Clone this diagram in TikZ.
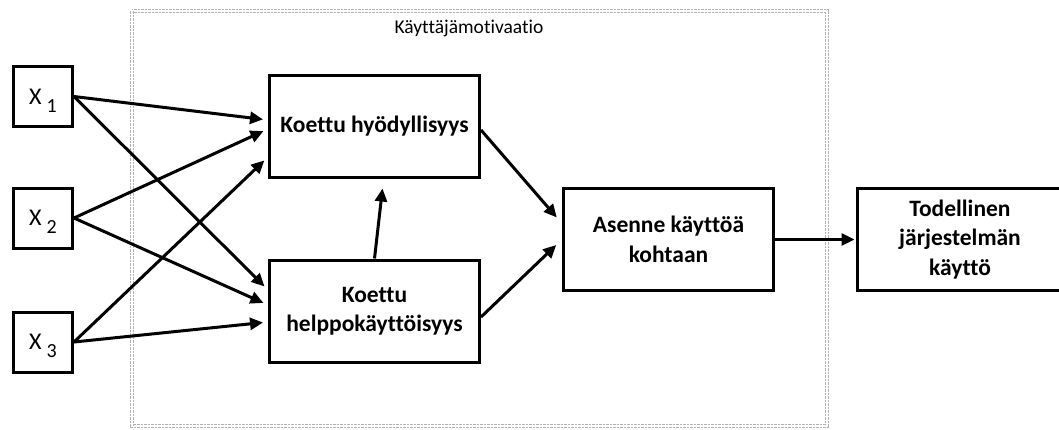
\documentclass[tikz,border=0pt]{standalone}
\usepackage{fontspec}
\setmainfont{Carlito}[Ligatures={NoCommon}]
\usetikzlibrary{arrows.meta,calc}
\newcommand{\xsub}[1]{X\hspace{5pt}\smash{\raisebox{-8pt}{\fontsize{20}{21}\selectfont #1}}}
\begin{document}
\begin{tikzpicture}[x=1pt,y=-1pt,
  xbox/.style={draw,line width=3pt,minimum width=59pt,minimum height=60pt,inner sep=0pt,font=\fontsize{24}{26}\selectfont},
  cbox/.style={draw,line width=3pt,minimum width=210pt,minimum height=102pt,inner sep=0pt,align=center,font=\bfseries\fontsize{23.5}{29.5}\selectfont},
  arr/.style={line width=3pt,-{Triangle[length=13pt,width=12pt]},shorten >=5pt},
  container/.style={draw=gray!60,double=white,double distance=1.2pt,line width=1pt,dash pattern=on 2.5pt off 1pt}
]
\useasboundingbox (0,0) rectangle (1059,429);
\draw[container] (132,11) rectangle (827,426);
\node[font=\fontsize{19.5}{21}\selectfont,anchor=west] (lab) at (391,28) {Käyttäjämotivaatio};
\node[xbox] (x1) at (43,96.5) {\xsub{1}};
\node[xbox] (x2) at (43,218) {\xsub{2}};
\node[xbox] (x3) at (43,342) {\xsub{3}};
\node[cbox] (kh) at (374.5,126) {Koettu hyödyllisyys};
\node[cbox] (ke) at (374.5,311) {Koettu\\helppokäyttöisyys};
\node[cbox] (as) at (668.5,239.5) {Asenne käyttöä\\kohtaan};
\node[cbox,minimum width=206pt] (td) at (960,239.5) {Todellinen\\järjestelmän\\käyttö};
\draw[arr] (x1.east) -- ([yshift=6pt]kh.west);
\draw[arr] (x2.east) -- ([yshift=-3pt]kh.west);
\draw[arr] (x3.east) -- ([yshift=-31pt]kh.west);
\draw[arr] (x1.east) -- ([yshift=21pt]ke.west);
\draw[arr] (x2.east) -- ([yshift=6pt]ke.west);
\draw[arr] (x3.east) -- ([yshift=-11pt]ke.west);
\draw[arr,shorten >=0pt] (ke.north) -- ([xshift=8pt,yshift=-10pt]kh.south);
\draw[arr,shorten >=8pt] ([yshift=-4pt]kh.east) -- ([yshift=16pt]as.west);
\draw[arr,shorten >=8pt] ([yshift=-6pt]ke.east) -- ([yshift=0pt]as.west);
\draw[arr,shorten >=1pt] (as.east) -- (td.west);
\end{tikzpicture}
\end{document}
